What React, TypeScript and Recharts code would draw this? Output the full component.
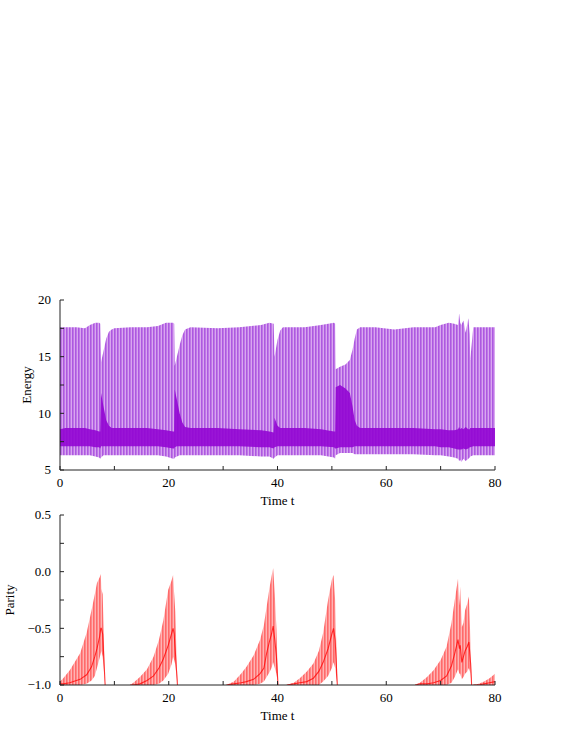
import { ComposedChart, Area, Line, XAxis, YAxis } from 'recharts';

// ---- Energy panel (envelopes of the fast oscillation) ----
const energyTime = [
  0, 1, 3, 4.6, 5.5, 6.5, 7.2, 7.4, 7.55, 8.0, 8.5, 9.0, 9.5, 10, 13, 16, 18, 19.5, 20.8, 21.0,
  21.1, 21.5, 22, 22.5, 23, 24, 29, 33, 37, 38.5, 39.3, 39.45, 40, 40.5, 41, 45, 48, 50.4, 50.6, 50.7,
  51.5, 52.5, 53.3, 53.8, 54.2, 54.6, 55.2, 58, 61.5, 65, 69, 70, 71.5, 72.5, 73.2, 73.4, 73.6, 73.8,
  74.2, 74.6, 75.1, 75.35, 75.45, 76, 78, 80,
];
const energyMax = [
  17.6, 17.6, 17.6, 17.5, 17.8, 18.0, 18.0, 17.9, 14.5, 15.5, 16.6, 17.2, 17.4, 17.5, 17.6, 17.6, 17.7, 18.0, 18.0, 17.9,
  14.2, 15.0, 16.0, 16.9, 17.4, 17.6, 17.5, 17.6, 17.8, 18.0, 17.9, 15.0, 16.5, 17.3, 17.6, 17.6, 17.8, 18.0, 17.9, 13.9,
  14.1, 14.3, 14.7, 15.6, 16.6, 17.4, 17.6, 17.6, 17.4, 17.6, 17.6, 17.8, 18.0, 17.9, 17.8, 18.8, 18.0, 17.8,
  18.2, 17.1, 18.4, 17.0, 14.7, 17.6, 17.6, 17.6,
];
const energyMin = [
  6.3, 6.3, 6.3, 6.3, 6.3, 6.2, 6.1, 6.0, 6.1, 6.3, 6.3, 6.3, 6.3, 6.3, 6.3, 6.3, 6.3, 6.2, 6.0, 6.0,
  6.1, 6.2, 6.3, 6.3, 6.3, 6.3, 6.3, 6.3, 6.2, 6.2, 6.0, 6.1, 6.3, 6.3, 6.3, 6.3, 6.3, 6.1, 6.0, 6.3,
  6.5, 6.5, 6.5, 6.5, 6.4, 6.4, 6.4, 6.4, 6.4, 6.4, 6.3, 6.3, 6.2, 6.1, 6.0, 5.8, 5.9, 5.7,
  6.0, 5.8, 6.0, 6.1, 6.2, 6.3, 6.3, 6.3,
];
const energyCoreHigh = [
  8.6, 8.7, 8.7, 8.7, 8.6, 8.5, 8.4, 8.4, 11.8, 10.6, 9.4, 8.9, 8.7, 8.7, 8.7, 8.7, 8.6, 8.5, 8.4, 8.4,
  12.1, 11.2, 10.0, 9.2, 8.8, 8.7, 8.7, 8.6, 8.5, 8.4, 8.3, 9.6, 8.9, 8.7, 8.7, 8.7, 8.6, 8.4, 8.4, 12.3,
  12.5, 12.2, 11.8, 10.6, 9.4, 8.9, 8.7, 8.7, 8.7, 8.7, 8.6, 8.6, 8.5, 8.5, 8.6, 8.8, 8.6, 8.7,
  8.6, 8.8, 8.6, 8.6, 8.7, 8.7, 8.7, 8.7,
];
const energyCoreLow = [
  7.1, 7.1, 7.1, 7.1, 7.1, 7.0, 7.0, 6.9, 7.1, 7.1, 7.1, 7.1, 7.1, 7.1, 7.1, 7.1, 7.1, 7.0, 6.9, 6.9,
  7.0, 7.1, 7.1, 7.1, 7.1, 7.1, 7.1, 7.1, 7.0, 7.0, 6.9, 7.0, 7.1, 7.1, 7.1, 7.1, 7.1, 7.0, 6.9, 6.9,
  7.0, 7.0, 7.0, 7.0, 7.1, 7.1, 7.1, 7.1, 7.1, 7.1, 7.1, 7.0, 7.0, 6.9, 6.8, 6.8, 6.8, 6.8,
  6.9, 6.8, 6.9, 7.0, 7.0, 7.1, 7.1, 7.1,
];

// ---- Parity panel (null = no band, parity sits at -1) ----
const parityTime = [
  0, 0.6, 1.8, 3.7, 4.9, 5.8, 6.4, 6.8, 7.3, 7.5, 7.6, 7.85, 8.3, 10,
  12.9, 13.5, 14.7, 16, 17.2, 18.2, 19, 19.9, 20.5, 20.8, 21.0, 21.2, 21.6, 25,
  30.6, 32, 33.3, 34.3, 35.6, 36.8, 37.5, 38.0, 38.5, 38.9, 39.2, 39.5, 39.8, 40.1, 41,
  41.7, 43, 44.1, 45.4, 46.6, 47.6, 48.4, 49.3, 50, 50.3, 50.6, 51.0, 60,
  65.3, 66.2, 67.5, 68.7, 70, 71.1, 72.0, 72.6, 73.2, 73.45, 73.6, 73.9, 74.2, 74.5, 74.9, 75.2, 75.5, 75.7, 75.9,
  76, 77, 78, 79, 80,
];
const parityHigh = [
  -0.97, -0.94, -0.87, -0.72, -0.54, -0.34, -0.2, -0.1, -0.05, -0.02, -0.15, -0.2, -1.0, null,
  -1.0, -0.98, -0.93, -0.86, -0.75, -0.6, -0.43, -0.16, -0.08, -0.03, -0.2, -0.35, -1.0, null,
  -1.0, -0.97, -0.9, -0.84, -0.74, -0.6, -0.47, -0.31, -0.15, -0.04, 0.03, -0.2, -0.5, -1.0, null,
  -1.0, -0.98, -0.94, -0.88, -0.81, -0.7, -0.54, -0.25, -0.07, -0.03, -0.25, -1.0, null,
  -1.0, -0.98, -0.93, -0.87, -0.78, -0.66, -0.45, -0.25, -0.06, -0.3, -0.13, -0.49, -0.45, -0.34, -0.28, -0.22, -0.63, -1.0, null,
  -1.0, -0.99, -0.97, -0.94, -0.9,
];
const parityLow = [
  -1.0, -1.0, -1.0, -1.0, -0.99, -0.96, -0.92, -0.85, -0.76, -0.72, -0.7, -0.75, -1.0, null,
  -1.0, -1.0, -1.0, -1.0, -1.0, -0.99, -0.96, -0.9, -0.82, -0.75, -0.78, -0.82, -1.0, null,
  -1.0, -1.0, -1.0, -1.0, -1.0, -0.99, -0.97, -0.93, -0.89, -0.85, -0.8, -0.85, -0.9, -1.0, null,
  -1.0, -1.0, -1.0, -1.0, -1.0, -1.0, -0.97, -0.92, -0.85, -0.8, -0.85, -1.0, null,
  -1.0, -1.0, -1.0, -1.0, -1.0, -1.0, -0.98, -0.93, -0.86, -0.9, -0.9, -0.95, -0.93, -0.9, -0.88, -0.85, -0.9, -1.0, null,
  -1.0, -1.0, -1.0, -1.0, -1.0,
];
const parityCore = [
  -0.99, -0.99, -0.98, -0.95, -0.91, -0.84, -0.75, -0.68, -0.57, -0.5, -0.5, -0.55, -1.0, null,
  -1.0, -1.0, -0.99, -0.96, -0.92, -0.85, -0.77, -0.65, -0.55, -0.5, -0.55, -0.7, -1.0, null,
  -1.0, -0.99, -0.98, -0.97, -0.95, -0.9, -0.85, -0.72, -0.62, -0.55, -0.48, -0.6, -0.75, -1.0, null,
  -1.0, -0.99, -0.98, -0.97, -0.94, -0.88, -0.8, -0.68, -0.55, -0.5, -0.6, -1.0, null,
  -1.0, -0.99, -0.99, -0.98, -0.96, -0.92, -0.83, -0.72, -0.6, -0.68, -0.65, -0.8, -0.75, -0.7, -0.66, -0.62, -0.8, -1.0, null,
  -1.0, -1.0, -0.99, -0.98, -0.97,
];

const timeTicks = [0, 10, 20, 30, 40, 50, 60, 70, 80];
const energyTicks = [5, 7.5, 10, 12.5, 15, 17.5, 20];
const parityTicks = [-1, -0.75, -0.5, -0.25, 0, 0.25, 0.5];

const energyData = energyTime.map((t, i) => ({
  t,
  band: [energyMin[i], energyMax[i]],
  core: [energyCoreLow[i], energyCoreHigh[i]],
}));

const parityData = parityTime.map((t, i) => ({
  t,
  band: parityHigh[i] === null ? null : [parityLow[i], parityHigh[i]],
  core: parityCore[i],
}));

const FONT = '"Liberation Serif", "Times New Roman", serif';
const axisLine = { stroke: '#222', strokeWidth: 1 };

const fmtTime = (v: number) => (v % 20 === 0 ? String(v) : '');
const fmtEnergy = (v: number) => (v % 5 === 0 ? String(v) : '');
const fmtParity = (v: number) =>
  Math.abs(v * 2 - Math.round(v * 2)) < 1e-9 ? v.toFixed(1).replace('-', '\u2212') : '';

function XTick({ x, y, payload }: any) {
  const s = fmtTime(payload.value);
  if (!s) return null;
  return (
    <text x={x} y={y} dy="0.71em" textAnchor="middle" fontSize={13} fontFamily={FONT} fill="#000">{s}</text>
  );
}

function makeYTick(fmt: (v: number) => string) {
  return ({ x, y, payload }: any) => {
    const s = fmt(payload.value);
    if (!s) return null;
    return (
      <text x={x} y={y} dy="0.34em" textAnchor="end" fontSize={13} fontFamily={FONT} fill="#000">{s}</text>
    );
  };
}

function YTitle({ viewBox, text, dx }: any) {
  const x = viewBox.x + dx;
  const y = viewBox.y + viewBox.height / 2;
  return (
    <text x={x} y={y} transform={`rotate(-90, ${x}, ${y})`} textAnchor="middle"
      fontSize={13} fontFamily={FONT} fill="#000">{text}</text>
  );
}

function XTitle({ viewBox }: any) {
  const x = viewBox.x + viewBox.width / 2;
  const y = viewBox.y + 35;
  return (
    <text x={x} y={y} textAnchor="middle" fontSize={13} fontFamily={FONT} fill="#000">Time t</text>
  );
}

function Frame({ yDomain, yTicks, yFmt, yTitle, titleDx }: any) {
  return [
    <XAxis key="xb" xAxisId="b" dataKey="t" type="number" domain={[0, 80]} ticks={timeTicks}
      tick={XTick} tickSize={-4} tickMargin={12} height={40}
      axisLine={axisLine} tickLine={axisLine} allowDataOverflow
      label={{ content: (p: any) => <XTitle {...p} /> }} />,
    <XAxis key="xt" xAxisId="t" orientation="top" dataKey="t" type="number" domain={[0, 80]}
      ticks={timeTicks} tick={false} tickSize={-4} height={0} axisLine={axisLine} tickLine={axisLine} />,
    <YAxis key="yl" yAxisId="l" type="number" domain={yDomain} ticks={yTicks}
      tick={makeYTick(yFmt)} tickSize={-4} tickMargin={13} width={60} axisLine={axisLine} tickLine={axisLine}
      allowDataOverflow label={{ content: (p: any) => <YTitle {...p} text={yTitle} dx={titleDx} /> }} />,
    <YAxis key="yr" yAxisId="r" orientation="right" type="number" domain={yDomain} ticks={yTicks}
      tick={false} tickSize={-4} width={0} axisLine={axisLine} tickLine={axisLine} />,
  ];
}

export default function App() {
  return (
    <div style={{ position: 'absolute', left: 0, top: 0, width: 567, height: 748, background: '#fff', fontFamily: FONT }}>
      <div style={{ position: 'absolute', left: 0, top: 280 }}>
        <ComposedChart width={567} height={240} data={energyData}
          margin={{ top: 20, right: 72, bottom: 10, left: 0 }}>
          <defs>
            <pattern id="violetStripes" patternUnits="userSpaceOnUse" width={3} height={4}>
              <rect width={3} height={4} fill="#d9a6f0" />
              <rect width={1.6} height={4} fill="#ad58e0" />
            </pattern>
          </defs>
          {Frame({ yDomain: [5, 20], yTicks: energyTicks, yFmt: fmtEnergy, yTitle: 'Energy', titleDx: 31 })}
          <Area xAxisId="b" yAxisId="l" type="linear" dataKey="band" stroke="none"
            fill="url(#violetStripes)" fillOpacity={1} isAnimationActive={false} dot={false} activeDot={false} />
          <Area xAxisId="b" yAxisId="l" type="linear" dataKey="core" stroke="none"
            fill="#9206d3" fillOpacity={0.9} isAnimationActive={false} dot={false} activeDot={false} />
        </ComposedChart>
      </div>
      <div style={{ position: 'absolute', left: 0, top: 500 }}>
        <ComposedChart width={567} height={240} data={parityData}
          margin={{ top: 15, right: 72, bottom: 15, left: 0 }}>
          <defs>
            <pattern id="redStripes" patternUnits="userSpaceOnUse" width={3} height={4}>
              <rect width={3} height={4} fill="#ffb4b4" />
              <rect width={1.6} height={4} fill="#ff6a6a" />
            </pattern>
          </defs>
          {Frame({ yDomain: [-1, 0.5], yTicks: parityTicks, yFmt: fmtParity, yTitle: 'Parity', titleDx: 14 })}
          <Area xAxisId="b" yAxisId="l" type="linear" dataKey="band" stroke="none"
            fill="url(#redStripes)" fillOpacity={1} isAnimationActive={false} dot={false} activeDot={false} />
          <Line xAxisId="b" yAxisId="l" type="linear" dataKey="core" stroke="#ff0000" strokeWidth={1.1}
            strokeOpacity={0.75} dot={false} activeDot={false} isAnimationActive={false} />
        </ComposedChart>
      </div>
    </div>
  );
}
